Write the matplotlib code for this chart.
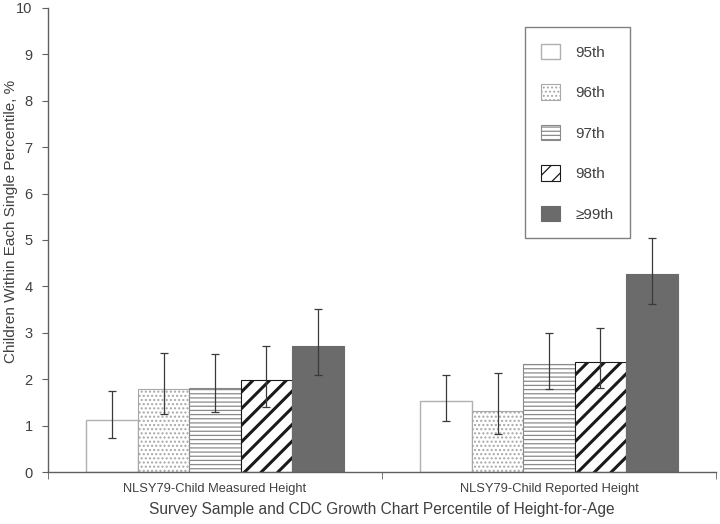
import matplotlib
matplotlib.use("Agg")
import matplotlib.pyplot as plt
import numpy as np

plt.rcParams['font.family'] = ['Liberation Sans', 'DejaVu Sans']

groups = ["NLSY79-Child Measured Height", "NLSY79-Child Reported Height"]
series = ["95th", "96th", "97th", "98th", "\u226599th"]
values = {
    "95th": [1.13, 1.52],
    "96th": [1.79, 1.31],
    "97th": [1.82, 2.32],
    "98th": [1.98, 2.36],
    "\u226599th": [2.72, 4.27],
}
err_low = {
    "95th": [0.73, 1.09],
    "96th": [1.24, 0.81],
    "97th": [1.30, 1.78],
    "98th": [1.41, 1.81],
    "\u226599th": [2.08, 3.61],
}
err_high = {
    "95th": [1.74, 2.10],
    "96th": [2.56, 2.13],
    "97th": [2.54, 3.00],
    "98th": [2.72, 3.10],
    "\u226599th": [3.52, 5.04],
}

styles = {
    "95th": dict(facecolor="white", edgecolor="#b0b0b0", hatch=None, lw=1.0),
    "96th": dict(facecolor="white", edgecolor="#a8a8a8", hatch="....", lw=0.8),
    "97th": dict(facecolor="white", edgecolor="#8a8a8a", hatch="----", lw=0.8),
    "98th": dict(facecolor="white", edgecolor="#1a1a1a", hatch="//", lw=0.8),
    "\u226599th": dict(facecolor="#6b6b6b", edgecolor="#6b6b6b", hatch=None, lw=0.8),
}

TEXT = "#404040"
fig = plt.figure(figsize=(7.2, 5.24), dpi=100)
ax = fig.add_axes([48/720, 1 - 472/524, 668/720, 464/524])

x = np.arange(len(groups))
bw = 0.154
n = len(series)
for i, s in enumerate(series):
    st = styles[s]
    pos = x + (i - (n - 1) / 2) * bw
    v = np.array(values[s])
    if s == "98th":
        plt.rcParams['hatch.linewidth'] = 2.2
    elif s == "96th":
        plt.rcParams['hatch.linewidth'] = 1.0
    else:
        plt.rcParams['hatch.linewidth'] = 0.9
    ax.bar(pos, v, width=bw, facecolor=st["facecolor"], edgecolor=st["edgecolor"],
           hatch=st["hatch"], linewidth=st["lw"], label=s, zorder=2)
    lo = v - np.array(err_low[s])
    hi = np.array(err_high[s]) - v
    ax.errorbar(pos, v, yerr=[lo, hi], fmt="none", ecolor="#3a3a3a",
                elinewidth=0.9, capsize=3, capthick=0.9, zorder=3)

ax.set_xlim(-0.5, 1.5)
ax.set_ylim(0, 10)
ax.set_yticks(range(0, 11))
ax.set_xticks(x)
ax.set_xticklabels(groups)
ax.set_xticks([-0.5, 0.5, 1.5], minor=True)
ax.tick_params(axis="x", which="major", length=0, pad=8, labelsize=9.3, colors=TEXT)
ax.tick_params(axis="x", which="minor", length=5, direction="out", color="#606060")
ax.tick_params(axis="y", length=4, direction="out", color="#606060", labelsize=10.5,
               colors=TEXT, pad=7)
for sp in ["top", "right"]:
    ax.spines[sp].set_visible(False)
for sp in ["left", "bottom"]:
    ax.spines[sp].set_color("#606060")
    ax.spines[sp].set_linewidth(1.0)

ax.set_xlabel("Survey Sample and CDC Growth Chart Percentile of Height-for-Age",
              fontsize=11.2, color=TEXT, labelpad=5)
ax.set_ylabel("Children Within Each Single Percentile, %", fontsize=11,
              color=TEXT)
ax.yaxis.set_label_coords(-0.045, 0.54)

leg = ax.legend(loc="upper right", bbox_to_anchor=((630-48)/668, (472-27)/464),
                borderaxespad=0, fancybox=False, frameon=True, edgecolor="#606060",
                fontsize=11, labelspacing=1.6, handlelength=1.2, handleheight=1.2,
                handletextpad=1.0, borderpad=1.1)
leg.get_frame().set_linewidth(1.0)
for t in leg.get_texts():
    t.set_color(TEXT)

fig.savefig("out.png", dpi=100)
